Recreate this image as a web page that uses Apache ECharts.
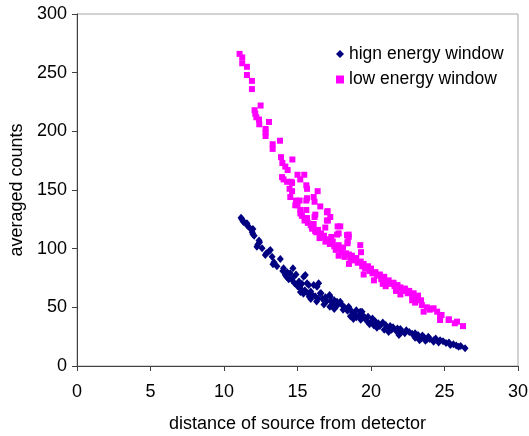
<!DOCTYPE html>
<html>
<head>
<meta charset="utf-8">
<script src="https://cdn.jsdelivr.net/npm/echarts@6/dist/echarts.min.js"></script>
<style>html,body{margin:0;padding:0;background:#fff;}#c{width:529px;height:436px;}</style>
</head>
<body>
<div id="c"></div>
<script>
var xTicks = [0, 5, 10, 15, 20, 25, 30];
var yTicks = [0, 50, 100, 150, 200, 250, 300];
var seriesNames = ['hign energy window', 'low energy window'];

var highData = [
[11.16,126.4],[11.22,125],[11.29,123.6],[11.35,122.5],[11.56,121.6],[11.6,119.5],[11.74,117.9],[11.97,116.8],[11.92,114],[11.97,112.2],
[12.05,111],[12.42,105.4],[12.38,107],[12.24,101.7],[12.3,103.5],[12.59,100.3],[13.15,98.9],[13.05,97.5],[12.81,94.6],[12.88,96],
[13.27,93.2],[13.83,91.2],[13.33,86.7],[13.4,88.5],[13.6,85],[14.05,83.3],[14.69,83.3],[14.0,81],[14.17,77.6],[14.3,80],
[14.5,79],[14.25,76],[15.53,77.6],[14.63,73.3],[14.4,74],[14.7,75.5],[14.9,78],[15.1,72],[14.8,70.5],[15.0,68],
[15.19,66.2],[15.3,70],[15.76,69],[15.42,76],[15.65,70.5],[16.1,69],[16.33,67.6],[16.44,70.5],[15.2,63],[15.5,64.5],
[15.4,61.5],[15.7,62],[15.9,63.5],[16.0,60.5],[15.8,59],[16.2,59.5],[16.55,62],[16.6,62],[16.4,57.5],[16.7,57],
[16.9,58.5],[17.18,60.5],[17.23,59],[17.0,55.5],[17.3,55],[17.5,56],[17.69,54.8],[17.91,54.8],[17.4,52],[17.7,51.5],
[18.0,52.5],[18.2,50],[18.48,50.5],[18.5,49.5],[18.1,48],[18.4,47],[18.7,46.5],[19.0,47.5],[19.27,46.3],[19.39,46.3],
[18.9,44],[19.2,43],[19.5,42.5],[19.6,41],[19.8,42],[20.1,40.5],[19.0,41.5],[19.3,39.5],[19.7,38.5],[20.0,37.5],
[20.3,38],[20.5,36.5],[20.8,37],[19.9,35.5],[20.2,34.5],[20.6,34],[21.0,35],[21.3,34],[21.5,33],[21.1,32],
[21.4,31],[21.8,32],[22.0,31.5],[21.7,30],[22.1,29.5],[22.4,30.5],[22.6,29],[22.3,28],[22.8,27.5],[23.0,28],
[23.2,26.5],[22.0,27.9],[23.13,25],[23.5,26],[23.6,24.5],[23.9,25],[23.4,23.5],[24.0,23],[24.26,22],[24.4,23.5],
[24.7,22],[24.26,20.7],[24.6,20],[24.9,21],[25.1,19.5],[25.4,17.9],[25.3,20],[25.6,18.5],[25.8,17.5],[25.96,16.4],
[26.1,17],[26.4,15.1],[17.5,48.5],[17.2,50.5],[16.8,52.5],[16.3,55],[15.9,57],[18.8,40],[18.6,42.5],[21.9,26.5],
[21.2,29],[20.4,32.5],[20.9,31],[23.3,22],[23.7,21.5],[23.0,24],[23.8,22.5]
];

var lowData = [
[11.06,266],[11.24,263],[11.24,258],[11.56,255],[11.56,248],[11.9,243],[11.9,236],[12.49,222],[12.08,218],[12.13,215],
[12.2,212],[12.38,210],[12.4,206],[13.06,208],[12.83,202],[12.83,199],[12.83,196],[13.81,192],[13.31,189],[13.31,185],
[13.88,178],[14.65,176],[13.97,173],[14.17,170],[14.33,167],[15.0,163],[15.46,163],[13.95,161],[14.05,159],[14.29,157],
[14.58,157],[14.63,156],[15.19,159],[15.6,154],[14.46,151],[15.65,151],[14.63,149],[14.51,144],[14.9,141],[15.14,141],
[15.6,141],[16.1,144],[16.37,149],[15.65,143],[15.0,137],[14.85,137],[15.19,133],[15.6,133],[16.16,140],[16.55,136],
[17.05,132],[17.0,131],[15.2,130],[15.65,126],[16.21,129],[17.23,127],[16.16,127],[17.07,124],[15.48,124],[17.0,124],
[17.73,119],[17.91,119],[15.99,118],[16.89,118],[17.8,113],[16.28,114],[17.69,112],[18.48,112],[18.48,110],[16.55,110],
[17.0,107],[18.41,106],[19.27,103],[19.32,97],[18.37,111.6],[18.4,104.6],
[15.3,128],[15.5,126],[15.7,122],[15.9,120],[16.0,117],[16.2,115],[16.1,121],[16.4,116],[16.6,113],[16.5,109],
[16.8,111],[16.9,106],[17.1,108],[17.2,104],[17.4,106],[17.5,102],[17.3,110],[17.6,99],[17.8,103],[17.9,100],
[18.0,97],[18.1,101],[18.3,96],[18.2,93],[18.5,95],[18.6,91],[18.7,94],[18.9,90],[19.0,92],[19.1,88],
[19.3,89],[19.4,85],[19.5,87],[19.6,83],[19.8,85],[19.9,81],[20.0,83],[20.1,79],[20.3,80],[20.4,77],
[20.6,78],[20.7,74],[20.9,76],[21.0,72],[21.2,73],[21.3,70],[21.5,71],[21.6,68],[21.8,69],[21.9,66],
[22.0,67],[22.2,64],[22.3,66],[22.5,62],[22.6,64],[22.8,60],[22.9,62],[23.1,58],[23.2,60],[23.4,56],
[23.46,52],[23.58,46.3],[23.8,50],[24.0,48],[24.2,49],[24.5,46.3],[24.8,43.5],[24.7,39.2],[25.3,39.8],[25.85,37.8],
[25.7,36.4],[26.26,34],[21.54,70.5],[22.33,64.8],[23.13,59],[24.26,49],[24.7,42],[25.28,39.2],[19.5,78],[20.2,73],
[21.0,68],[22.0,61],[22.8,56],[18.5,87],[17.8,94],[20.8,70],[21.7,64],[23.0,54]
];

var font = 'Liberation Sans, Arial, sans-serif';
var chart = echarts.init(document.getElementById('c'), null, {renderer: 'canvas'});
chart.setOption({
  backgroundColor: '#ffffff',
  animation: false,
  grid: {left: 77, right: 11, top: 14, bottom: 70, show: true, borderColor: '#a6a6a6', borderWidth: 1,
         containLabel: false, outerBoundsMode: 'none'},
  legend: {
    orient: 'vertical', left: 331, top: 40, itemWidth: 8, itemHeight: 8, itemGap: 7.5,
    textStyle: {fontSize: 17.5, color: '#000', fontFamily: font},
    data: [{name: seriesNames[0], icon: 'diamond'}, {name: seriesNames[1], icon: 'rect'}]
  },
  xAxis: {
    type: 'value', min: xTicks[0], max: xTicks[xTicks.length - 1], interval: 5,
    name: 'distance of source from detector', nameLocation: 'middle', nameGap: 49,
    nameTextStyle: {fontSize: 18, color: '#000', fontFamily: font},
    axisLine: {lineStyle: {color: '#404040', width: 1}},
    axisTick: {show: true, length: 5, lineStyle: {color: '#404040'}},
    axisLabel: {fontSize: 18, color: '#000', fontFamily: font, margin: 17},
    splitLine: {show: false}
  },
  yAxis: {
    type: 'value', min: yTicks[0], max: yTicks[yTicks.length - 1], interval: 50,
    name: 'averaged counts', nameLocation: 'middle', nameGap: 50,
    nameTextStyle: {fontSize: 18, color: '#000', fontFamily: font},
    axisLine: {show: true, lineStyle: {color: '#404040', width: 1}},
    axisTick: {show: true, length: 5, lineStyle: {color: '#404040'}},
    axisLabel: {fontSize: 18, color: '#000', fontFamily: font, margin: 10},
    splitLine: {show: false}
  },
  series: [
    {name: seriesNames[0], type: 'scatter', symbol: 'diamond', symbolSize: [7, 8], data: highData,
     itemStyle: {color: '#000080', opacity: 1}},
    {name: seriesNames[1], type: 'scatter', symbol: 'rect', symbolSize: 6, data: lowData,
     itemStyle: {color: '#ff00ff', opacity: 1}}
  ]
});
</script>
</body>
</html>
